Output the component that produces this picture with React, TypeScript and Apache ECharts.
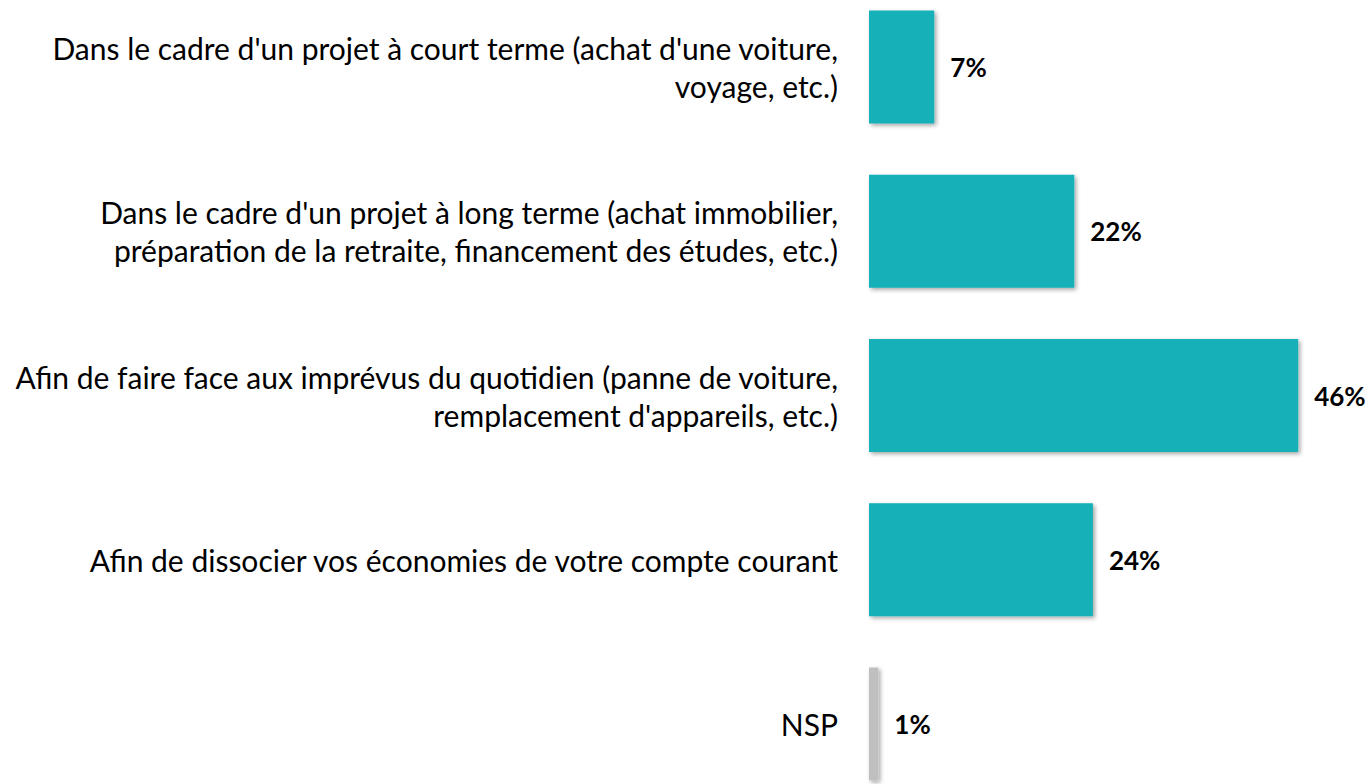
import React, { useEffect, useRef } from "react";
import * as echarts from "echarts";

const categories = [
  "Dans le cadre d'un projet à court terme (achat d'une voiture,\nvoyage, etc.)",
  "Dans le cadre d'un projet à long terme (achat immobilier,\npréparation de la retraite, financement des études, etc.)",
  "Afin de faire face aux imprévus du quotidien (panne de voiture,\nremplacement d'appareils, etc.)",
  "Afin de dissocier vos économies de votre compte courant",
  "NSP",
];
const values = [7, 22, 46, 24, 1];
const barColors = ["#14B0B8", "#14B0B8", "#14B0B8", "#14B0B8", "#BFBFBF"];

export default function App() {
  const ref = useRef<HTMLDivElement>(null);
  useEffect(() => {
    const chart = echarts.init(ref.current!, null, { renderer: "svg" });
    chart.setOption({
      animation: false,
      grid: { left: 869, right: 34.5, top: 0, bottom: 0, containLabel: false },
      xAxis: { type: "value", min: 0, max: 50, show: false },
      yAxis: {
        type: "category",
        data: categories,
        inverse: true,
        axisLine: { show: false },
        axisTick: { show: false },
        axisLabel: {
          margin: 31,
          align: "right",
          fontFamily: "Lato",
          fontSize: 30,
          lineHeight: 38,
          color: "#000",
        },
      },
      series: [
        {
          type: "bar",
          data: values.map((v, i) => ({ value: v, itemStyle: { color: barColors[i] } })),
          barWidth: 113,
          itemStyle: {
            shadowColor: "rgba(0,0,0,0.35)",
            shadowBlur: 4,
            shadowOffsetX: 2,
            shadowOffsetY: 2,
          },
          label: {
            show: true,
            position: "right",
            distance: 16,
            formatter: "{c}%",
            fontFamily: "Lato",
            fontWeight: "bold",
            fontSize: 26,
            color: "#000",
          },
        },
      ],
    });
    return () => chart.dispose();
  }, []);
  return (
    <div
      ref={ref}
      style={{ position: "fixed", left: 0, top: -15.5, width: 1370, height: 821, background: "#fff" }}
    />
  );
}
